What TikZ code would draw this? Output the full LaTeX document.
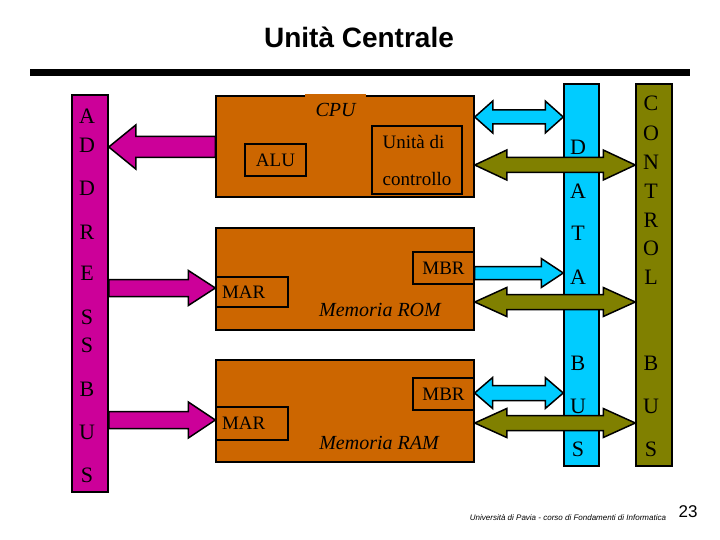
\documentclass[tikz,border=0pt]{standalone}
\usepackage{fontspec}
\setmainfont{Liberation Serif}
\newfontfamily\headfont{Liberation Sans}
\usetikzlibrary{calc}
\definecolor{AdrMag}{RGB}{204,0,153}
\definecolor{BoxOrange}{RGB}{204,102,0}
\definecolor{DatCyan}{RGB}{0,204,255}
\definecolor{CtlOlive}{RGB}{128,128,0}

\tikzset{
  box/.style={draw, line width=1.5pt, fill=BoxOrange, inner sep=0pt},
  reg/.style={draw, line width=1.3pt, fill=BoxOrange, inner sep=0pt,
    font=\fontsize{19}{22}\selectfont},
  bus/.style={draw, line width=1.5pt, inner sep=0pt},
  letter/.style={font=\fontsize{22}{26}\selectfont, inner sep=0pt},
  fatarrow/.style={draw, line width=1.5pt, line join=miter}
}

% fat arrow: colour, tail, tip, shaft half, head half, head length
\newcommand{\onearrow}[6]{%
  \draw[fatarrow, fill=#1] ($(#2)+(0,#4)$) -- ($(#3)!#6pt!(#2)+(0,#4)$)
    -- ($(#3)!#6pt!(#2)+(0,#5)$) -- (#3) -- ($(#3)!#6pt!(#2)+(0,-#5)$)
    -- ($(#3)!#6pt!(#2)+(0,-#4)$) -- ($(#2)+(0,-#4)$) -- cycle;}
\newcommand{\twoarrow}[6]{%
  \draw[fatarrow, fill=#1] (#2) -- ($(#2)!#6pt!(#3)+(0,#5)$)
    -- ($(#2)!#6pt!(#3)+(0,#4)$) -- ($(#3)!#6pt!(#2)+(0,#4)$)
    -- ($(#3)!#6pt!(#2)+(0,#5)$) -- (#3) -- ($(#3)!#6pt!(#2)+(0,-#5)$)
    -- ($(#3)!#6pt!(#2)+(0,-#4)$) -- ($(#2)!#6pt!(#3)+(0,-#4)$)
    -- ($(#2)!#6pt!(#3)+(0,-#5)$) -- cycle;}

\begin{document}
\begin{tikzpicture}[x=1pt, y=-1pt]
    \useasboundingbox (0,0) rectangle (720,540);

    % Titolo
    \node[font=\headfont\bfseries\fontsize{28}{32}\selectfont] (title) at (359,37) {Unità Centrale};
    \fill (30,69) rectangle (690,76);

    % Bus
    \node[bus, fill=AdrMag, minimum width=36pt, minimum height=397pt] (adr) at (90,293.5) {};
    \node[bus, fill=DatCyan, minimum width=35pt, minimum height=382pt] (dat) at (581.5,275) {};
    \node[bus, fill=CtlOlive, minimum width=36pt, minimum height=382pt] (ctl) at (654,275) {};

    % CPU
    \node[box, minimum width=258pt, minimum height=101pt] (cpu) at (345,146.5) {};
    \node[fill=BoxOrange, minimum width=61pt, minimum height=31pt, inner sep=0pt,
      font=\itshape\fontsize{20}{22}\selectfont] (cpulbl) at (335.5,110) {CPU};
    \node[reg, minimum width=61pt, minimum height=32pt] (alu) at (275.5,160) {ALU};
    \node[reg, minimum width=90pt, minimum height=68pt, align=left,
      font=\fontsize{19}{37}\selectfont] (cu) at (417,160) {Unità di\\controllo};

    % Memoria ROM
    \node[box, minimum width=258pt, minimum height=102pt] (rom) at (345,279) {};
    \node[reg, text width=60pt, inner xsep=6pt, minimum height=30pt, align=left] (mar1) at (252,292) {MAR};
    \node[reg, minimum width=61pt, minimum height=32pt] (mbr1) at (443.5,268) {MBR};
    \node[font=\itshape\fontsize{20}{22}\selectfont] (romlbl) at (380,310) {Memoria ROM};

    % Memoria RAM
    \node[box, minimum width=258pt, minimum height=102pt] (ram) at (345,411) {};
    \node[reg, text width=60pt, inner xsep=6pt, minimum height=33pt, align=left] (mar2) at (252,423.5) {MAR};
    \node[reg, minimum width=61pt, minimum height=32pt] (mbr2) at (443.5,394) {MBR};
    \node[font=\itshape\fontsize{20}{22}\selectfont] (ramlbl) at (379,443) {Memoria RAM};

    % Lettere ADDRESS BUS
    \node[letter] (a1) at (87,116) {A};
    \node[letter] (a2) at (87,145) {D};
    \node[letter] (a3) at (87,188) {D};
    \node[letter] (a4) at (87,232) {R};
    \node[letter] (a5) at (87,273) {E};
    \node[letter] (a6) at (87,317) {S};
    \node[letter] (a7) at (87,345) {S};
    \node[letter] (a8) at (87,389) {B};
    \node[letter] (a9) at (87,432) {U};
    \node[letter] (a10) at (87,475) {S};

    % Lettere DATA BUS
    \node[letter] (d1) at (578,147) {D};
    \node[letter] (d2) at (578,191) {A};
    \node[letter] (d3) at (578,233) {T};
    \node[letter] (d4) at (578,277) {A};
    \node[letter] (d5) at (578,363) {B};
    \node[letter] (d6) at (578,406) {U};
    \node[letter] (d7) at (578,449) {S};

    % Lettere CONTROL BUS
    \node[letter] (c1) at (651,103) {C};
    \node[letter] (c2) at (651,133) {O};
    \node[letter] (c3) at (651,162) {N};
    \node[letter] (c4) at (651,191) {T};
    \node[letter] (c5) at (651,220) {R};
    \node[letter] (c6) at (651,248) {O};
    \node[letter] (c7) at (651,277) {L};
    \node[letter] (c8) at (651,363) {B};
    \node[letter] (c9) at (651,406) {U};
    \node[letter] (c10) at (651,449) {S};

    % Frecce indirizzi
    \coordinate (ac1) at (cpu.west |- 0,147);
    \coordinate (ab1) at (adr.east |- 0,147);
    \coordinate (ab2) at (adr.east |- 0,288);
    \coordinate (am2) at (mar1.west |- 0,288);
    \coordinate (ab3) at (adr.east |- 0,420);
    \coordinate (am3) at (mar2.west |- 0,420);
    \onearrow{AdrMag}{ac1}{ab1}{10.5}{22}{27}
    \onearrow{AdrMag}{ab2}{am2}{8.5}{17.5}{27}
    \onearrow{AdrMag}{ab3}{am3}{8.5}{18}{27}

    % Frecce dati
    \coordinate (dc1) at (cpu.east |- 0,117);
    \coordinate (db1) at (dat.west |- 0,117);
    \coordinate (dm2) at (mbr1.east |- 0,273);
    \coordinate (db2) at (dat.west |- 0,273);
    \coordinate (dm3) at (mbr2.east |- 0,393);
    \coordinate (db3) at (dat.west |- 0,393);
    \twoarrow{DatCyan}{dc1}{db1}{7}{16}{18}
    \onearrow{DatCyan}{dm2}{db2}{6.5}{14.5}{22}
    \twoarrow{DatCyan}{dm3}{db3}{7.5}{15.5}{18}

    % Frecce controllo
    \coordinate (cc1) at (cpu.east |- 0,165);
    \coordinate (cb1) at (ctl.west |- 0,165);
    \coordinate (cr2) at (rom.east |- 0,302);
    \coordinate (cb2) at (ctl.west |- 0,302);
    \coordinate (cr3) at (ram.east |- 0,423);
    \coordinate (cb3) at (ctl.west |- 0,423);
    \twoarrow{CtlOlive}{cc1}{cb1}{7.5}{15}{32}
    \twoarrow{CtlOlive}{cr2}{cb2}{7.5}{14.5}{32}
    \twoarrow{CtlOlive}{cr3}{cb3}{7.5}{14.5}{32}

    % Pie di pagina
    \node[font=\headfont\itshape\fontsize{8}{9}\selectfont, anchor=base] (foot) at (568,520)
      {Università di Pavia - corso di Fondamenti di Informatica};
    \node[font=\headfont\fontsize{17}{19}\selectfont] (pg) at (688,512) {23};
  \end{tikzpicture}
\end{document}
